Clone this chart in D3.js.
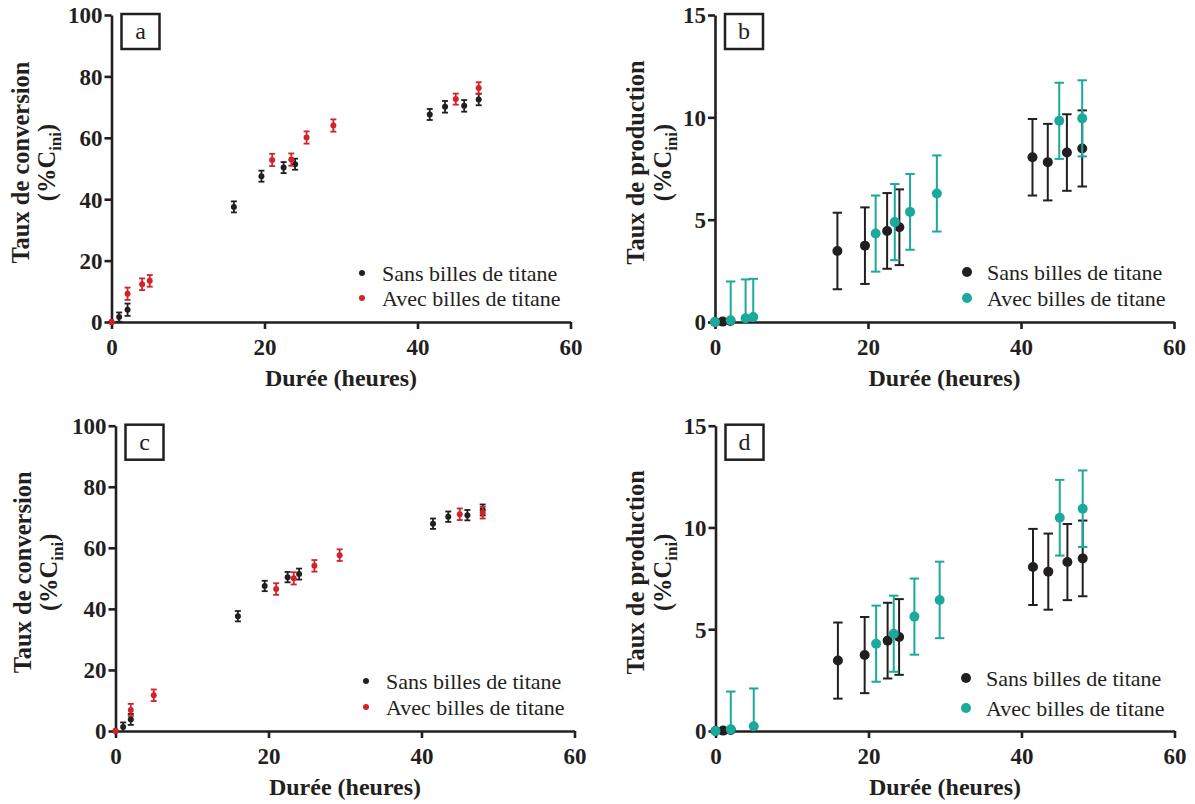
<!DOCTYPE html>
<html>
<head>
<meta charset="utf-8">
<script src="https://cdn.jsdelivr.net/npm/d3@7"></script>
<style>
  html, body { margin: 0; padding: 0; background: #fff; }
  svg { display: block; }
</style>
</head>
<body>
<svg id="chart" width="1195" height="804"></svg>
<script>
// ---------------- DATA ----------------
const xTicks = [0, 20, 40, 60];
const convTicks = [0, 20, 40, 60, 80, 100];
const prodTicks = [0, 5, 10, 15];
const seriesNames = ["Sans billes de titane", "Avec billes de titane"];
const panelLetters = ["a", "b", "c", "d"];
const convTitle = "Taux de conversion";
const prodTitle = "Taux de production";
const xTitle = "Durée (heures)";

// Panel a — conversion
const hoursA_sans = [0, 1.0, 2.1, 16.0, 19.6, 22.5, 24.0, 41.6, 43.6, 46.1, 48.0];
const convA_sans = [0, 1.6, 4.0, 37.5, 47.5, 50.3, 51.4, 67.6, 70.1, 70.4, 72.5];
const convA_sans_err = [0, 1.5, 2.0, 1.8, 1.8, 1.8, 1.8, 1.8, 1.9, 1.9, 1.9];
const hoursA_avec = [0, 2.1, 4.0, 5.0, 21.0, 23.5, 25.5, 29.0, 45.0, 48.0];
const convA_avec = [0, 9.2, 12.3, 13.4, 52.8, 52.9, 60.1, 64.0, 72.6, 76.2];
const convA_avec_err = [0, 2.0, 1.9, 1.9, 2.0, 2.0, 2.0, 2.0, 1.8, 1.9];

// Panel b — production
const hoursB_sans = [0, 1.0, 2.0, 16.0, 19.6, 22.5, 24.1, 41.5, 43.5, 46.0, 48.0];
const prodB_sans = [0, 0.02, 0.05, 3.47, 3.73, 4.45, 4.63, 8.05, 7.81, 8.28, 8.48];
const prodB_sans_err = [0, 0, 0, 1.87, 1.87, 1.85, 1.85, 1.87, 1.87, 1.87, 1.86];
const hoursB_avec = [0, 2.05, 4.0, 5.0, 21.0, 23.5, 25.5, 29.0, 45.0, 48.0];
const prodB_avec = [0, 0.08, 0.18, 0.24, 4.32, 4.88, 5.38, 6.28, 9.83, 9.95];
const prodB_avec_err = [0, 1.9, 1.9, 1.87, 1.86, 1.86, 1.85, 1.86, 1.86, 1.86];

// Panel c — conversion
const hoursC_sans = [0, 1.0, 2.0, 16.0, 19.5, 22.5, 24.0, 41.5, 43.5, 46.0, 48.0];
const convC_sans = [0, 1.3, 3.8, 37.6, 47.5, 50.4, 51.4, 67.9, 70.2, 70.7, 72.4];
const convC_sans_err = [0, 1.5, 1.8, 1.7, 1.7, 1.7, 1.8, 1.7, 1.7, 1.7, 1.8];
const hoursC_avec = [0, 2.0, 5.0, 21.0, 23.3, 26.0, 29.3, 45.0, 48.0];
const convC_avec = [0, 6.9, 11.7, 46.5, 50.0, 54.1, 57.6, 71.0, 71.5];
const convC_avec_err = [0, 2.0, 1.9, 1.9, 2.0, 1.9, 1.9, 1.9, 1.9];

// Panel d — production
const hoursD_sans = [0, 1.0, 2.0, 16.0, 19.5, 22.5, 24.0, 41.5, 43.5, 46.0, 48.0];
const prodD_sans = [0, 0.02, 0.05, 3.46, 3.73, 4.44, 4.62, 8.06, 7.83, 8.30, 8.48];
const prodD_sans_err = [0, 0, 0, 1.87, 1.87, 1.86, 1.86, 1.87, 1.87, 1.87, 1.86];
const hoursD_avec = [0, 2.0, 5.0, 21.0, 23.3, 26.0, 29.3, 45.0, 48.0];
const prodD_avec = [0, 0.08, 0.23, 4.29, 4.78, 5.62, 6.44, 10.48, 10.92];
const prodD_avec_err = [0, 1.86, 1.86, 1.87, 1.87, 1.87, 1.88, 1.86, 1.88];

// ---------------- STYLE ----------------
const FONT = "'Liberation Serif', 'Times New Roman', Times, serif";
const BLACK = "#231f20";
const RED = "#d2232a";
const TEAL = "#1aa99a";

const svg = d3.select("#chart");

const panels = [
  { letter: panelLetters[0], left: 111.5, right: 570.5, top: 15, bottom: 322,
    yMax: 100, yTicks: convTicks, title: convTitle, titleX1: 20, titleX2: 46,
    r: 3, cap: 3, ew: 1.8,
    series: [
      { x: hoursA_sans, y: convA_sans, e: convA_sans_err, color: BLACK },
      { x: hoursA_avec, y: convA_avec, e: convA_avec_err, color: RED } ],
    legend: { x: 362, y: 273, dy: 25 } },
  { letter: panelLetters[1], left: 715, right: 1174, top: 15, bottom: 322,
    yMax: 15, yTicks: prodTicks, title: prodTitle, titleX1: 635, titleX2: 662,
    r: 5, cap: 4.7, ew: 2,
    series: [
      { x: hoursB_sans, y: prodB_sans, e: prodB_sans_err, color: BLACK },
      { x: hoursB_avec, y: prodB_avec, e: prodB_avec_err, color: TEAL } ],
    legend: { x: 967, y: 272, dy: 26 } },
  { letter: panelLetters[2], left: 115.5, right: 574.5, top: 425.7, bottom: 731,
    yMax: 100, yTicks: convTicks, title: convTitle, titleX1: 22, titleX2: 48,
    r: 3, cap: 3, ew: 1.8,
    series: [
      { x: hoursC_sans, y: convC_sans, e: convC_sans_err, color: BLACK },
      { x: hoursC_avec, y: convC_avec, e: convC_avec_err, color: RED } ],
    legend: { x: 366, y: 681, dy: 26 } },
  { letter: panelLetters[3], left: 715.5, right: 1174.5, top: 425.7, bottom: 731,
    yMax: 15, yTicks: prodTicks, title: prodTitle, titleX1: 635, titleX2: 662,
    r: 5, cap: 4.7, ew: 2,
    series: [
      { x: hoursD_sans, y: prodD_sans, e: prodD_sans_err, color: BLACK },
      { x: hoursD_avec, y: prodD_avec, e: prodD_avec_err, color: TEAL } ],
    legend: { x: 966, y: 678, dy: 30 } }
];

panels.forEach(p => {
  const g = svg.append("g");
  const x = d3.scaleLinear().domain([0, 60]).range([p.left, p.right]);
  const y = d3.scaleLinear().domain([0, p.yMax]).range([p.bottom, p.top]);

  // axes
  const xAxis = d3.axisBottom(x).tickValues(xTicks).tickSize(7).tickSizeOuter(0).tickPadding(4);
  const yAxis = d3.axisLeft(y).tickValues(p.yTicks).tickSize(7).tickSizeOuter(0).tickPadding(2);

  const gx = g.append("g").attr("transform", `translate(0,${p.bottom})`).call(xAxis);
  const gy = g.append("g").attr("transform", `translate(${p.left},0)`).call(yAxis);
  [gx, gy].forEach(a => {
    a.select(".domain").attr("stroke", BLACK).attr("stroke-width", 2.6);
    a.selectAll(".tick line").attr("stroke", BLACK).attr("stroke-width", 2.6);
    a.selectAll(".tick text")
      .attr("fill", BLACK)
      .style("font-family", FONT)
      .style("font-weight", "bold")
      .style("font-size", "23px");
  });
  gx.selectAll(".tick text").attr("dy", "0.95em");
  gy.selectAll(".tick text").attr("dy", "0.34em");

  // x title
  g.append("text")
    .attr("x", (p.left + p.right) / 2)
    .attr("y", p.bottom + 64)
    .attr("text-anchor", "middle")
    .attr("fill", BLACK)
    .style("font-family", FONT).style("font-weight", "bold").style("font-size", "24px")
    .text(xTitle);

  // y title (two lines)
  const cy = (p.top + p.bottom) / 2 - 6;
  g.append("text")
    .attr("transform", `translate(${p.titleX1},${cy}) rotate(-90)`)
    .attr("text-anchor", "middle")
    .attr("dy", "0.35em")
    .attr("fill", BLACK)
    .style("font-family", FONT).style("font-weight", "bold").style("font-size", "24.5px")
    .text(p.title);
  const t2 = g.append("text")
    .attr("transform", `translate(${p.titleX2},${cy}) rotate(-90)`)
    .attr("text-anchor", "middle")
    .attr("dy", "0.35em")
    .attr("fill", BLACK)
    .style("font-family", FONT).style("font-weight", "bold").style("font-size", "24.5px");
  t2.append("tspan").text("(%C");
  t2.append("tspan").attr("dy", "6").style("font-size", "17px").text("ini");
  t2.append("tspan").attr("dy", "-6").text(")");

  // panel letter box
  const bx = p.left + 10, by = p.top - 1;
  g.append("rect")
    .attr("x", bx).attr("y", by).attr("width", 38).attr("height", 35)
    .attr("fill", "#fff").attr("stroke", BLACK).attr("stroke-width", 2.5);
  g.append("text")
    .attr("x", bx + 19).attr("y", by + 25)
    .attr("text-anchor", "middle")
    .attr("fill", BLACK)
    .style("font-family", FONT).style("font-size", "24px")
    .text(p.letter);

  // series
  p.series.forEach(s => {
    const pts = s.x.map((xv, i) => ({ x: xv, y: s.y[i], e: s.e[i] }));
    const sg = g.append("g");
    pts.filter(d => d.e > 0).forEach(d => {
      const hi = d.y + d.e;
      const lo = Math.max(0, d.y - d.e);
      sg.append("line")
        .attr("x1", x(d.x)).attr("x2", x(d.x))
        .attr("y1", y(hi)).attr("y2", y(lo))
        .attr("stroke", s.color).attr("stroke-width", p.ew);
      sg.append("line")
        .attr("x1", x(d.x) - p.cap).attr("x2", x(d.x) + p.cap)
        .attr("y1", y(hi)).attr("y2", y(hi))
        .attr("stroke", s.color).attr("stroke-width", p.ew);
      if (d.y - d.e > 0) {
        sg.append("line")
          .attr("x1", x(d.x) - p.cap).attr("x2", x(d.x) + p.cap)
          .attr("y1", y(lo)).attr("y2", y(lo))
          .attr("stroke", s.color).attr("stroke-width", p.ew);
      }
    });
    sg.selectAll("circle").data(pts).join("circle")
      .attr("cx", d => x(d.x)).attr("cy", d => y(d.y))
      .attr("r", p.r).attr("fill", s.color);
  });

  // legend
  p.series.forEach((s, i) => {
    const ly = p.legend.y + i * p.legend.dy;
    g.append("circle").attr("cx", p.legend.x).attr("cy", ly).attr("r", p.r).attr("fill", s.color);
    g.append("text")
      .attr("x", p.legend.x + 20).attr("y", ly + 8)
      .attr("fill", BLACK)
      .style("font-family", FONT).style("font-size", "22px")
      .text(seriesNames[i]);
  });
});
</script>
</body>
</html>
